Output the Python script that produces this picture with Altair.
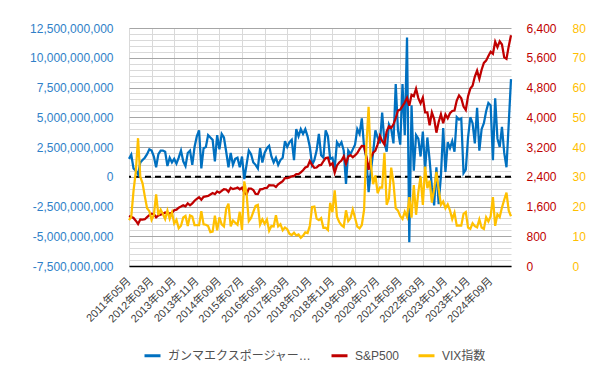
import json
import altair as alt
import pandas as pd

# ---- categories -------------------------------------------------------
month_labels = [f"{2011 + (4 + k) // 12}年{(4 + k) % 12 + 1:02d}月" for k in range(170)]
tick_index = list(range(0, 170, 10))

series_names = ["ガンマエクスポージャー（ドル）", "S&P500", "VIX指数"]
series_colors = ["#0070C0", "#C00000", "#FFC000"]

# ---- values -----------------------------------------------------------
gex_bn = [
    1.5, 1.85, 0.7, 0.5, 0.2, 1.2, 1.4, 1.6, 1.9, 2.3,
    2.2, 1.7, 0.8, 1.9, 2.2, 2.2, 2.1, 0.9, 1.6, 1.2,
    1.5, 1.1, 1.6, 2.2, 1.3, 0.9, 2.0, 2.2, 1.0, 2.5,
    3.4, 3.9, 0.7, 2.4, 2.5, 3.5, 3.3, 3.1, 1.3, 3.5,
    2.3, 3.6, 3.3, 2.1, 0.8, 2.0, 1.0, 1.5, 1.6, 0.8,
    1.7, -0.2, 1.0, 2.2, 1.9, 1.2, 1.0, 0.7, 2.4, 1.2,
    2.0, 2.4, 2.6, 1.7, 1.2, 1.6, 1.0, 1.4, 1.6, 3.0,
    2.5, 2.9, 3.1, 1.4, 4.0, 3.4, 4.0, 3.6, 4.0, 3.4,
    2.5, 1.0, 1.4, 2.2, 3.6, 1.8, 1.6, 3.9, 3.4, 1.5,
    1.6, 0.7, 2.9, 2.6, 2.9, 2.2, -0.6, 2.2, 1.9, 2.3,
    2.7, 4.0, 3.6, 4.9, 2.5, 1.6, -1.3, 0.5, 2.0, 3.9,
    3.3, 2.8, 5.4, 2.9, 2.1, 4.4, 4.0, 2.8, 7.8, 3.9,
    2.7, 7.8, 3.5, 11.7, -5.5, 6.0, 0.5, 3.5, 3.2, 1.7,
    3.8, 0.6, 3.3, 1.4, -0.9, -2.4, 0.8, -2.3, 0.1, 4.1,
    0.4, 2.9, 2.4, 3.0, 2.1, 5.0, 4.8, 4.9, 0.3, 0.6,
    3.3, 5.0, 4.5, 2.8, 5.8, 2.2, 4.0, 4.5, 5.5, 6.2,
    6.0, 1.4, 6.6, 3.2, 2.5, 4.2, 2.0, 0.8, 4.5, 8.2,
]

spx = [
    1345.20, 1320.64, 1292.28, 1218.89, 1131.42, 1253.30, 1246.96, 1257.60,
    1312.41, 1365.68, 1408.47, 1397.91, 1310.33, 1362.16, 1379.32, 1406.58, 1440.67, 1412.16, 1416.18, 1426.19,
    1498.11, 1514.68, 1569.19, 1597.57, 1630.74, 1606.28, 1685.73, 1632.97, 1681.55, 1756.54, 1805.81, 1848.36,
    1782.59, 1859.45, 1872.34, 1883.95, 1923.57, 1960.23, 1930.67, 2003.37, 1972.29, 2018.05, 2067.56, 2058.90,
    1994.99, 2104.50, 2067.89, 2085.51, 2107.39, 2063.11, 2103.84, 1972.18, 1920.03, 2079.36, 2080.41, 2043.94,
    1940.24, 1932.23, 2059.74, 2065.30, 2096.95, 2098.86, 2173.60, 2170.95, 2168.27, 2126.15, 2198.81, 2238.83,
    2278.87, 2363.64, 2362.72, 2384.20, 2411.80, 2423.41, 2470.30, 2471.65, 2519.36, 2575.26, 2647.58, 2673.61,
    2823.81, 2713.83, 2640.87, 2648.05, 2705.27, 2718.37, 2816.29, 2901.52, 2913.98, 2711.74, 2760.17, 2506.85,
    2704.10, 2784.49, 2834.40, 2945.83, 2752.06, 2941.76, 2980.38, 2926.46, 2976.74, 3037.56, 3140.98, 3230.78,
    3225.52, 2954.22, 2584.59, 2912.43, 3044.31, 3100.29, 3271.12, 3500.31, 3363.00, 3269.96, 3621.63, 3756.07,
    3714.24, 3811.15, 3972.89, 4181.17, 4204.11, 4297.50, 4395.26, 4522.68, 4307.54, 4605.38, 4567.00, 4766.18,
    4515.55, 4373.94, 4530.41, 4131.93, 4132.15, 3785.38, 4130.29, 3955.00, 3585.62, 3871.98, 4080.11, 3839.50,
    4076.60, 3970.15, 4109.31, 4169.48, 4179.83, 4450.38, 4588.96, 4507.66, 4288.05, 4193.80, 4567.80, 4769.83,
    4845.65, 5096.27, 5254.35, 5035.69, 5277.51, 5460.48, 5522.30, 5648.40, 5762.48, 5705.45, 6032.38, 5881.63,
    6040.53, 5954.50, 5611.85, 5569.06, 5911.69, 6204.95,
]

vix = [
    15.45, 16.52, 25.25, 31.62, 42.96, 29.96, 27.80, 23.40,
    19.44, 18.43, 15.50, 17.15, 24.06, 17.08, 18.93, 17.47, 15.73, 18.60, 15.87, 18.02,
    14.28, 15.51, 12.70, 13.52, 16.30, 16.86, 13.45, 17.01, 16.60, 13.75, 13.70, 13.72,
    18.41, 14.00, 13.88, 13.41, 11.40, 11.57, 16.95, 11.98, 16.31, 14.03, 13.33, 19.20,
    20.97, 13.34, 15.29, 14.55, 13.84, 18.23, 12.12, 28.43, 24.50, 15.07, 16.13, 18.21,
    20.20, 20.55, 13.95, 15.70, 14.19, 15.63, 11.87, 13.42, 13.29, 17.06, 13.33, 14.04,
    11.99, 12.92, 12.37, 10.82, 10.41, 11.18, 10.26, 10.59, 9.51, 10.18, 11.28, 11.04,
    13.54, 19.85, 19.97, 15.93, 15.43, 16.09, 12.83, 12.86, 12.12, 21.23, 18.07, 25.42,
    16.57, 14.78, 13.71, 13.12, 18.71, 15.08, 16.12, 18.98, 16.24, 13.22, 12.62, 13.78,
    18.84, 40.11, 53.54, 34.15, 27.51, 30.43, 24.46, 26.41, 26.37, 38.02, 20.57, 22.75,
    33.09, 27.95, 19.40, 18.61, 16.76, 15.83, 18.24, 16.48, 23.14, 16.26, 27.19, 17.22,
    24.83, 30.15, 20.56, 33.40, 26.19, 28.71, 21.33, 25.87, 31.62, 25.88, 20.58, 21.67,
    19.40, 20.70, 18.70, 15.78, 17.94, 13.59, 13.63, 13.57, 17.52, 18.14, 12.92, 12.45,
    14.35, 13.40, 13.01, 15.65, 12.92, 12.44, 16.36, 15.00, 16.73, 23.16, 13.51, 17.35,
    16.43, 19.63, 22.28, 24.70, 18.57, 16.73,
]

zero_line = [0]

gex_ticks = list(range(-7_500_000_000, 12_500_000_001, 500_000_000))
spx_ticks = list(range(0, 6401, 800))
vix_ticks = list(range(0, 81, 10))

# ---- table ------------------------------------------------------------
df = pd.DataFrame({
    "i": list(range(len(month_labels))),
    "gex": [v * 1e9 for v in gex_bn],
    "spx": spx,
    "vix": vix,
})
zdf = pd.DataFrame({"z": zero_line})

FONT = "Liberation Sans, Noto Sans CJK JP, sans-serif"

x_enc = alt.X(
    "i:Q",
    scale=alt.Scale(domain=[0, len(month_labels) - 1], nice=False, zero=False),
    axis=alt.Axis(
        values=tick_index,
        labelExpr=json.dumps(month_labels, ensure_ascii=False) + "[datum.value]",
        labelAngle=-45, labelAlign="right", labelBaseline="middle",
        labelPadding=13, labelFontSize=11, labelFont=FONT, labelColor="#404040",
        labelOverlap=False, labelFlush=False, ticks=False, grid=True, gridColor="#d9d9d9",
        domainColor="#000000", domainWidth=1.5, title=None,
    ),
)

color_scale = alt.Scale(domain=series_names, range=series_colors)
legend = alt.Legend(
    orient="none", legendX=14, legendY=318, direction="horizontal", title=None,
    symbolType="stroke", symbolStrokeWidth=3, symbolSize=256,
    labelFont=FONT, labelFontSize=12, labelColor="#505050", labelLimit=145,
    labelOffset=6, columnPadding=12,
)


def color_for(k):
    return alt.Color("series:N", scale=color_scale, legend=legend)


def tag(k):
    return json.dumps(series_names[k], ensure_ascii=False)


zero = alt.Chart(zdf).mark_rule(color="#000000", strokeWidth=2, strokeDash=[6, 4]).encode(
    y=alt.Y("z:Q", scale=alt.Scale(domain=[-7.5e9, 12.5e9], nice=False, zero=False), axis=None)
)

gex_line = alt.Chart(df).transform_calculate(series=tag(0)).mark_line(strokeWidth=2.25).encode(
    x=x_enc,
    y=alt.Y(
        "gex:Q",
        scale=alt.Scale(domain=[-7.5e9, 12.5e9], nice=False, zero=False),
        axis=alt.Axis(
            orient="left", values=gex_ticks, format=",.0f",
            labelExpr="datum.value % 2500000000 === 0 ? replace(datum.label, '\u2212', '-') : ''",
            labelOverlap=False, labelFontSize=12, labelFont=FONT, labelColor="#2F7FC8",
            labelPadding=16, ticks=False, domain=False, title=None,
            grid=True,
            gridColor={"condition": {"test": "datum.value % 2500000000 === 0", "value": "#a6a6a6"},
                       "value": "#d9d9d9"},
        ),
    ),
    color=color_for(0),
)

spx_line = alt.Chart(df).transform_calculate(series=tag(1)).mark_line(strokeWidth=2.25).encode(
    x=x_enc,
    y=alt.Y(
        "spx:Q",
        scale=alt.Scale(domain=[0, 6400], nice=False),
        axis=alt.Axis(
            orient="right", values=spx_ticks, format=",.0f", labelOverlap=False,
            labelFontSize=12, labelFont=FONT, labelColor="#C00000", labelPadding=15,
            ticks=False, domain=False, grid=False, title=None,
        ),
    ),
    color=color_for(1),
)

vix_line = alt.Chart(df).transform_calculate(series=tag(2)).mark_line(strokeWidth=2.25).encode(
    x=x_enc,
    y=alt.Y(
        "vix:Q",
        scale=alt.Scale(domain=[0, 80], nice=False),
        axis=alt.Axis(
            orient="right", offset=46, values=vix_ticks, format=",.0f", labelOverlap=False,
            labelFontSize=12, labelFont=FONT, labelColor="#FFC000", labelPadding=15,
            ticks=False, domain=False, grid=False, title=None,
        ),
    ),
    color=color_for(2),
)

chart = (
    alt.layer(zero, gex_line, spx_line, vix_line)
    .resolve_scale(y="independent", color="shared")
    .properties(width=382, height=238,
                padding={"left": 21, "top": 14, "right": 5, "bottom": 5},
                background="#ffffff")
    .configure_view(stroke="transparent")
    .configure_axisX(labelOverlap=False)
)

chart.save("out.html", embed_options={"renderer": "svg", "actions": False})
